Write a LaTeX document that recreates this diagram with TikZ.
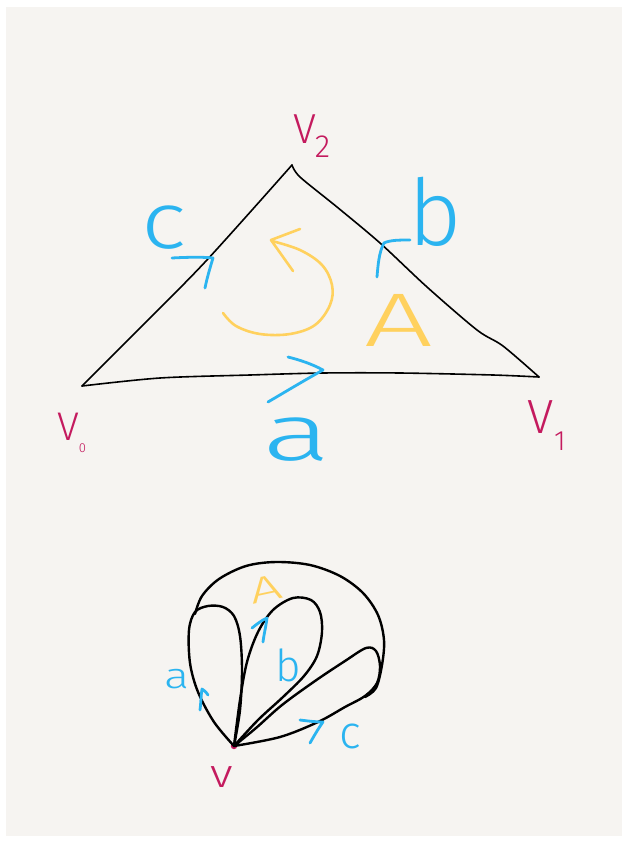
\documentclass[tikz,border=0pt]{standalone}
\usepackage{fontspec}
\IfFontExistsTF{Fira Sans Light}{\setmainfont{Fira Sans Light}}{\setmainfont{Fira Sans}}
\definecolor{paper}{HTML}{F6F4F1}
\definecolor{inkblue}{HTML}{2BB4F0}
\definecolor{inkred}{HTML}{C41A5E}
\definecolor{inkyellow}{HTML}{FFD15E}
\tikzset{
  edge/.style={black, line width=1.6pt, line cap=round, line join=round},
  loopedge/.style={black, line width=2.4pt, line cap=round, line join=round},
  chev/.style={inkblue, line width=2.8pt, line cap=round, line join=round},
  yel/.style={inkyellow, line width=2.6pt, line cap=round, line join=round},
  lbl/.style={inner sep=0pt, outer sep=0pt},
}
\newcommand\fs[1]{\fontsize{#1}{#1}\selectfont}
\begin{document}
\begin{tikzpicture}[x=1pt, y=-1pt]
\useasboundingbox (0,0) rectangle (628,843);
\fill[white] (0,0) rectangle (628,843);
\fill[paper] (6,7) rectangle (622,836);

% ---------- triangle ----------
\coordinate (V0) at (82,386);
\coordinate (V1) at (539,377);
\coordinate (V2) at (292,165);
\draw[edge] plot[smooth, tension=0.5] coordinates {(V0) (140,328) (206,261) (V2)};
\draw[edge] plot[smooth, tension=0.5] coordinates {(V2) (300,177) (337,207) (380,243) (427,287) (477,330) (503,346) (V1)};
\draw[edge] plot[smooth, tension=0.5] coordinates {(V1) (493,375) (400,373) (323,373) (250,375) (160,378) (V0)};

% vertex labels
\node[lbl, inkred, anchor=base west] (lV2) at (293,143) {\fs{42}V\kern-1pt\raisebox{-14pt}{\fs{32}2}};
\node[lbl, inkred, anchor=base west] (lV0) at (57,440) {\fs{40}V\kern0pt\raisebox{-12pt}{\fs{13}0}};
\node[lbl, inkred, anchor=base west] (lV1) at (527,433) {\fs{48}V\kern1pt\raisebox{-17pt}{\fs{28}1}};

% edge labels
\node[lbl, inkblue, xscale=1.2] (lc) at (164,228) {\fs{80}c};
\node[lbl, inkblue] (lb) at (435,212) {\fs{92}b};
\node[lbl, inkblue, xscale=1.6] (la) at (297,440) {\fs{80}a};

% edge arrows
\draw[chev] (172,258) .. controls (190,257) and (205,257) .. (213,258) .. controls (210,268) and (207,278) .. (205,288);
\draw[chev] (410,240) .. controls (400,240) and (390,240) .. (384,243) .. controls (379,252) and (378,265) .. (377,277);
\draw[chev] (288,357) .. controls (300,360) and (312,364) .. (323,370) .. controls (305,380) and (285,392) .. (268,402);

% orientation arrow and face label
\draw[yel] plot[smooth, tension=0.6] coordinates {(223,313) (236,326) (260,334) (290,334) (315,325) (330,305) (332,285) (322,265) (300,250) (272,241)};
\draw[yel] (300,229) -- (271,240) -- (293,271);
\node[lbl, inkyellow, xscale=1.6] (lA) at (399,320) {\fs{76}A};

% ---------- one-vertex complex ----------
\coordinate (v) at (234,746);
\fill[inkred] (v) circle (3.2pt);
% petal a
\draw[loopedge] plot[smooth, tension=0.55] coordinates {(v) (214,722) (198,692) (190,663) (189,630) (195,612) (208,606) (223,607) (234,616) (240,636) (242,670) (240,710) (v)};
% petal b
\draw[loopedge] plot[smooth, tension=0.55] coordinates {(v) (240,700) (247,662) (258,632) (273,610) (293,598) (311,600) (320,612) (322,632) (317,656) (304,676) (283,697) (258,720) (v)};
% petal c
\draw[loopedge] plot[smooth, tension=0.55] coordinates {(v) (256,728) (282,705) (315,681) (345,661) (366,648) (376,651) (380,666) (377,683) (365,696) (345,707) (318,722) (280,737) (v)};
% outer loop
\draw[loopedge] plot[smooth, tension=0.55] coordinates {(195,614) (202,596) (219,579) (246,566) (276,562) (310,565) (340,576) (363,593) (378,615) (384,640) (382,665) (376,688) (365,697)};

% labels
\node[lbl, inkyellow, rotate=12, xscale=1.6] (lA2) at (266,589) {\fs{36}A};
\node[lbl, inkblue, xscale=1.3] (la2) at (177,679) {\fs{36}a};
\node[lbl, inkblue] (lb2) at (288,665) {\fs{44}b};
\node[lbl, inkblue] (lc2) at (350,736) {\fs{46}c};
\node[lbl, inkred, xscale=1.2] (lv) at (222,777) {\fs{40}v};

% arrows on petals
\draw[chev] (200,710) .. controls (201,702) and (201,695) .. (202,689) .. controls (204,690) and (206,692) .. (208,695);
\draw[chev] (252,628) .. controls (257,624) and (262,620) .. (267,618) .. controls (266,626) and (264,634) .. (263,642);
\draw[chev] (300,720) .. controls (308,721) and (316,722) .. (323,722) .. controls (318,729) and (314,736) .. (310,743);
\end{tikzpicture}
\end{document}
